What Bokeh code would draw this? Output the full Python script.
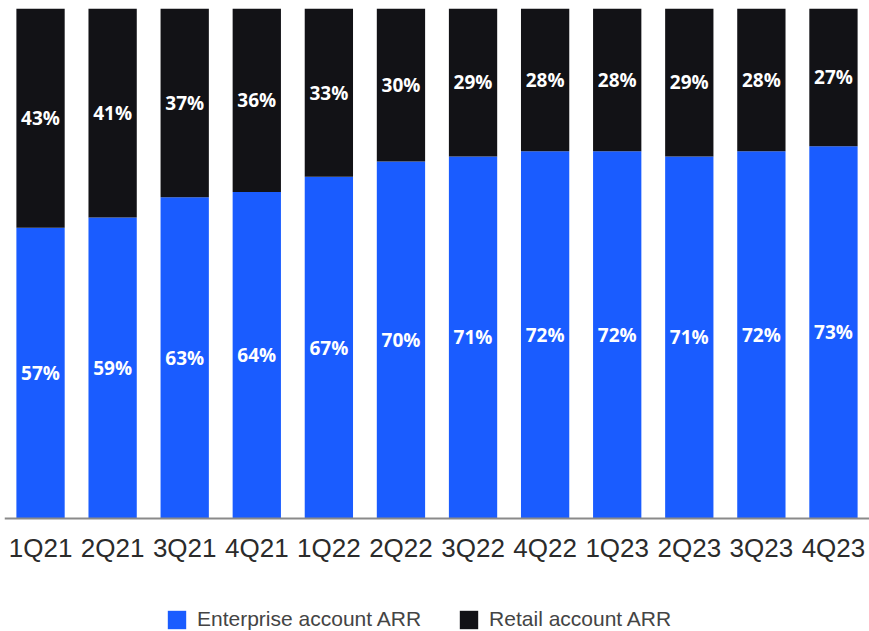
from bokeh.plotting import figure
from bokeh.models import (ColumnDataSource, FactorRange, Legend, LegendItem, Range1d,
                          CategoricalAxis)
from bokeh.core.properties import value
from bokeh.embed import file_html
from bokeh.resources import INLINE

quarters = ["1Q21", "2Q21", "3Q21", "4Q21", "1Q22", "2Q22", "3Q22", "4Q22", "1Q23", "2Q23", "3Q23", "4Q23"]
enterprise = [57, 59, 63, 64, 67, 70, 71, 72, 72, 71, 72, 73]
retail = [43, 41, 37, 36, 33, 30, 29, 28, 28, 29, 28, 27]

BLUE = "#1a5cff"
BLACK = "#121216"

src = ColumnDataSource(dict(
    q=quarters, enterprise=enterprise, retail=retail,
    e_mid=[e / 2 for e in enterprise],
    r_mid=[e + r / 2 for e, r in zip(enterprise, retail)],
    e_lab=[f"{e}%" for e in enterprise],
    r_lab=[f"{r}%" for r in retail],
))

# frame spans 8..631 px; 100% = 510 px, so space below 0 = 113 px
p = figure(frame_width=865, frame_height=623, x_range=FactorRange(*quarters, range_padding=0),
           y_range=Range1d(-113 / 5.1, 100), output_backend="svg", toolbar_location=None,
           x_axis_location=None, y_axis_location=None,
           min_border_left=4, min_border_right=0, min_border_top=8, min_border_bottom=0)

rs = p.vbar_stack(["enterprise", "retail"], x="q", width=0.67, source=src,
                  color=[BLUE, BLACK], line_color=None)

for ycol, tcol in (("e_mid", "e_lab"), ("r_mid", "r_lab")):
    p.text(x="q", y=ycol, text=tcol, source=src, text_align="center", text_baseline="middle",
           text_color="white", text_font=value("Open Sans"), text_font_style="bold",
           text_font_size="19px")

xaxis = CategoricalAxis(fixed_location=0)
xaxis.axis_line_color = "#8a8a8a"
xaxis.axis_line_width = 2
xaxis.major_tick_line_color = None
xaxis.minor_tick_line_color = None
xaxis.major_label_text_font = "Liberation Sans"
xaxis.major_label_text_font_size = "26px"
xaxis.major_label_text_color = "#2b2b2b"
xaxis.major_label_standoff = 8
p.add_layout(xaxis, "below")

p.xgrid.visible = False
p.ygrid.visible = False
p.outline_line_color = None

legend = Legend(items=[LegendItem(label="Enterprise account ARR", renderers=[rs[0]]),
                       LegendItem(label="Retail account ARR", renderers=[rs[1]])],
                orientation="horizontal", location=(161, 0),
                label_text_font="Liberation Sans", label_text_font_size="21px",
                label_text_color="#444444", glyph_width=23, glyph_height=23,
                label_height=23, label_standoff=9, spacing=36, padding=0, margin=0,
                border_line_color=None, background_fill_alpha=0)
p.add_layout(legend, "center")

open("out.html", "w").write(file_html(p, INLINE))
